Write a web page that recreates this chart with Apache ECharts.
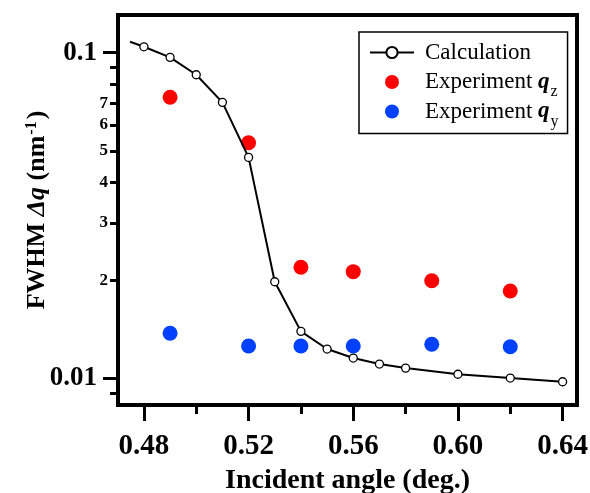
<!DOCTYPE html>
<html>
<head>
<meta charset="utf-8">
<script src="https://cdn.jsdelivr.net/npm/echarts@6/dist/echarts.min.js"></script>
<style>html,body{margin:0;background:#fff}#main{width:590px;height:493px}</style>
</head>
<body>
<div id="main"></div>
<script>
// calculated curve (first point only starts the line, no marker)
var calcAngle = [0.4747, 0.48, 0.49, 0.50, 0.51, 0.52, 0.53, 0.54, 0.55, 0.56, 0.57, 0.58, 0.60, 0.62, 0.64];
var calcFwhm = [0.1081, 0.1043, 0.0968, 0.0856, 0.0704, 0.0477, 0.0198, 0.01394, 0.0123, 0.01154, 0.01106, 0.01075, 0.01029, 0.01002, 0.00976];

// experiment
var expAngle = [0.49, 0.52, 0.54, 0.56, 0.59, 0.62];
var expQz = [0.0730, 0.0529, 0.02193, 0.02126, 0.01994, 0.01854];
var expQy = [0.01375, 0.01257, 0.01257, 0.01257, 0.01272, 0.0125];

// ticks
var xMajorTicks = [0.48, 0.52, 0.56, 0.60, 0.64];
var xMinorTicks = [0.50, 0.54, 0.58, 0.62];
var yMajorTicks = [0.01, 0.1];
var yMinorTicks = [0.009, 0.02, 0.03, 0.04, 0.05, 0.06, 0.07, 0.08, 0.09];
var yMinorLabels = ['2', '3', '4', '5', '6', '7'];

var serif = 'Liberation Serif';
var xMin = 0.4701, xMax = 0.6455;
var yMin = 0.00828, yMax = 0.1306;

function pairs(xs, ys) {
    return xs.map(function (x, i) { return [x, ys[i]]; });
}

var calcData = pairs(calcAngle, calcFwhm).map(function (p, i) {
    return i === 0 ? { value: p, symbol: 'none' } : p;
});

var myChart = echarts.init(document.getElementById('main'));

option = {
    backgroundColor: '#fff',
    animation: false,
    grid: {
        left: 118, right: 13, top: 15, bottom: 88,
        outerBoundsMode: 'none',
        containLabel: false,
        show: true,
        borderColor: '#000',
        borderWidth: 4
    },
    legend: {
        orient: 'vertical',
        left: 359,
        top: 32,
        padding: [9, 9, 4, 10],
        itemGap: 0,
        itemWidth: 44,
        itemHeight: 14,
        borderColor: '#000',
        borderWidth: 1.5,
        data: ['Calculation', 'Experiment qz', 'Experiment qy'],
        formatter: function (name) {
            // same token layout on every row so all rows are equally tall
            if (name === 'Calculation') return '{t|Calculation}{s| }';
            return '{t|Experiment }{q|q}{s|' + name.slice(-1) + '}';
        },
        textStyle: {
            padding: [0, 0, 0, 6],
            rich: {
                t: { fontFamily: serif, fontSize: 23, color: '#000', lineHeight: 36, verticalAlign: 'middle' },
                q: { fontFamily: serif, fontSize: 23, color: '#000', fontWeight: 'bold', fontStyle: 'italic', lineHeight: 36, verticalAlign: 'middle' },
                s: { fontFamily: serif, fontSize: 16, color: '#000', lineHeight: 16, verticalAlign: 'bottom', padding: [0, 0, 0, 1] }
            }
        }
    },
    xAxis: [
        {
            type: 'value', min: xMin, max: xMax, position: 'bottom',
            name: 'Incident angle (deg.)',
            nameLocation: 'middle',
            nameGap: 62,
            nameTextStyle: { fontFamily: serif, fontSize: 28, fontWeight: 'bold', color: '#000' },
            axisLine: { show: false },
            splitLine: { show: false },
            axisTick: { customValues: xMajorTicks, length: 16, lineStyle: { color: '#000', width: 3 } },
            axisLabel: {
                customValues: xMajorTicks,
                margin: 27,
                fontFamily: serif, fontSize: 29, fontWeight: 'bold', color: '#000',
                formatter: function (v) { return v.toFixed(2); }
            }
        },
        {
            type: 'value', min: xMin, max: xMax, position: 'bottom',
            axisLine: { show: false },
            splitLine: { show: false },
            axisTick: { customValues: xMinorTicks, length: 9, lineStyle: { color: '#000', width: 3 } },
            axisLabel: { show: false }
        }
    ],
    yAxis: [
        {
            type: 'log', logBase: 10, min: yMin, max: yMax, position: 'left',
            name: '{b|FWHM }{i|Δq}{b| (nm}{sup|-1}{b|)}',
            nameLocation: 'middle',
            nameGap: 68,
            nameMoveOverlap: false,
            nameTextStyle: {
                rich: {
                    b: { fontFamily: serif, fontSize: 26, fontWeight: 'bold', color: '#000', verticalAlign: 'bottom' },
                    i: { fontFamily: serif, fontSize: 26, fontWeight: 'bold', fontStyle: 'italic', color: '#000', verticalAlign: 'bottom' },
                    sup: { fontFamily: serif, fontSize: 16, fontWeight: 'bold', color: '#000', verticalAlign: 'top', padding: [0, 2, 0, 1] }
                }
            },
            axisLine: { show: false },
            splitLine: { show: false },
            axisTick: { customValues: yMajorTicks, length: 15, lineStyle: { color: '#000', width: 3 } },
            axisLabel: {
                customValues: yMajorTicks,
                margin: 21,
                fontFamily: serif, fontSize: 27, fontWeight: 'bold', color: '#000',
                formatter: function (v) { return v >= 0.05 ? '0.1' : '0.01'; }
            }
        },
        {
            type: 'log', logBase: 10, min: yMin, max: yMax, position: 'left',
            axisLine: { show: false },
            splitLine: { show: false },
            axisTick: { customValues: yMinorTicks, length: 8, lineStyle: { color: '#000', width: 3 } },
            axisLabel: {
                customValues: yMinorTicks,
                margin: 10,
                fontFamily: serif, fontSize: 17, fontWeight: 'bold', color: '#000',
                formatter: function (v) {
                    var d = String(Math.round(v * 100));
                    return yMinorLabels.indexOf(d) >= 0 ? d : '';
                }
            }
        }
    ],
    series: [
        {
            name: 'Experiment qz',
            type: 'scatter',
            symbolSize: 15,
            itemStyle: { color: '#ff0000', opacity: 1 },
            data: pairs(expAngle, expQz)
        },
        {
            name: 'Experiment qy',
            type: 'scatter',
            symbolSize: 15,
            itemStyle: { color: '#0040ff', opacity: 1 },
            data: pairs(expAngle, expQy)
        },
        {
            name: 'Calculation',
            type: 'line',
            z: 5,
            symbol: 'circle',
            symbolSize: 8,
            lineStyle: { color: '#000', width: 2 },
            itemStyle: { color: '#fff', borderColor: '#000', borderWidth: 1.3 },
            data: calcData
        }
    ]
};

myChart.setOption(option);
</script>
</body>
</html>
